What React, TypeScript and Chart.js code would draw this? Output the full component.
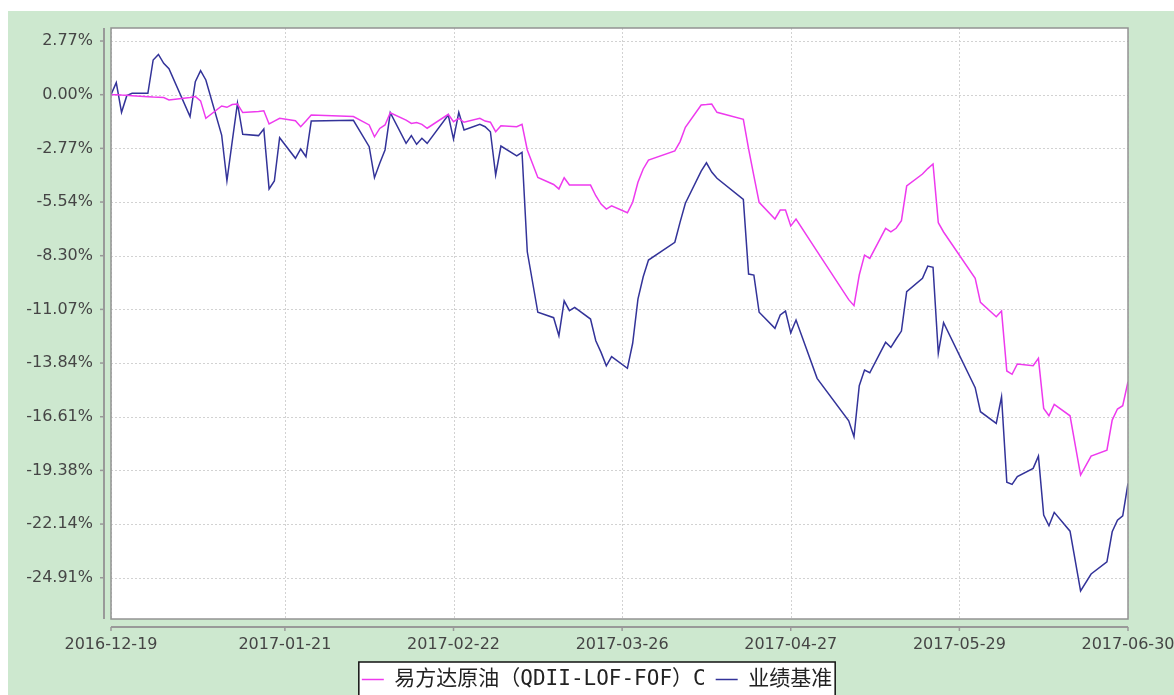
import React, { useEffect, useRef } from 'react';
import { Chart, registerables } from 'chart.js';

Chart.register(...registerables);

// ---------- data ----------
const startDate = '2016-12-19';
const endDate = '2017-06-30';

const dates = [
  '2016-12-19', '2016-12-20', '2016-12-21', '2016-12-22', '2016-12-23', '2016-12-26', '2016-12-27', '2016-12-28', '2016-12-29', '2016-12-30',
  '2017-01-03', '2017-01-04', '2017-01-05', '2017-01-06', '2017-01-09', '2017-01-10', '2017-01-11', '2017-01-12', '2017-01-13', '2017-01-16',
  '2017-01-17', '2017-01-18', '2017-01-19', '2017-01-20', '2017-01-23', '2017-01-24', '2017-01-25', '2017-01-26', '2017-02-03', '2017-02-06',
  '2017-02-07', '2017-02-08', '2017-02-09', '2017-02-10', '2017-02-13', '2017-02-14', '2017-02-15', '2017-02-16', '2017-02-17', '2017-02-21',
  '2017-02-22', '2017-02-23', '2017-02-24', '2017-02-27', '2017-02-28', '2017-03-01', '2017-03-02', '2017-03-03', '2017-03-06', '2017-03-07',
  '2017-03-08', '2017-03-10', '2017-03-13', '2017-03-14', '2017-03-15', '2017-03-16', '2017-03-17', '2017-03-20', '2017-03-21', '2017-03-22',
  '2017-03-23', '2017-03-24', '2017-03-27', '2017-03-28', '2017-03-29', '2017-03-30', '2017-03-31', '2017-04-05', '2017-04-06', '2017-04-07',
  '2017-04-10', '2017-04-11', '2017-04-12', '2017-04-13', '2017-04-18', '2017-04-19', '2017-04-20', '2017-04-21', '2017-04-24', '2017-04-25',
  '2017-04-26', '2017-04-27', '2017-04-28', '2017-05-02', '2017-05-08', '2017-05-09', '2017-05-10', '2017-05-11', '2017-05-12', '2017-05-15',
  '2017-05-16', '2017-05-17', '2017-05-18', '2017-05-19', '2017-05-22', '2017-05-23', '2017-05-24', '2017-05-25', '2017-05-26', '2017-06-01',
  '2017-06-02', '2017-06-05', '2017-06-06', '2017-06-07', '2017-06-08', '2017-06-09', '2017-06-12', '2017-06-13', '2017-06-14', '2017-06-15',
  '2017-06-16', '2017-06-19', '2017-06-21', '2017-06-23', '2017-06-26', '2017-06-27', '2017-06-28', '2017-06-29', '2017-06-30',
];

// 易方达原油（QDII-LOF-FOF）C, cumulative return %
const fundReturns = [
  0.0, 0.0, -0.02, -0.03, -0.05, -0.1, -0.12, -0.13, -0.15, -0.27,
  -0.14, -0.09, -0.32, -1.22, -0.58, -0.65, -0.51, -0.48, -0.92, -0.87,
  -0.83, -1.51, -1.36, -1.22, -1.34, -1.65, -1.36, -1.05, -1.13, -1.56,
  -2.17, -1.74, -1.56, -0.93, -1.31, -1.48, -1.43, -1.53, -1.73, -1.01,
  -1.39, -1.22, -1.42, -1.22, -1.36, -1.42, -1.91, -1.6, -1.65, -1.53,
  -2.85, -4.27, -4.63, -4.86, -4.28, -4.66, -4.66, -4.66, -5.21, -5.64,
  -5.9, -5.73, -6.09, -5.55, -4.52, -3.83, -3.37, -2.9, -2.42, -1.68,
  -0.53, -0.51, -0.48, -0.91, -1.27, -2.8, -4.19, -5.55, -6.41, -5.95,
  -5.95, -6.77, -6.41, -8.08, -10.57, -10.88, -9.3, -8.27, -8.44, -6.89,
  -7.07, -6.89, -6.5, -4.71, -4.09, -3.81, -3.57, -6.6, -7.08, -9.47,
  -10.71, -11.45, -11.16, -14.25, -14.42, -13.89, -13.98, -13.6, -16.18, -16.56,
  -15.97, -16.56, -19.62, -18.64, -18.33, -16.78, -16.21, -16.04, -14.8,
];

// 业绩基准, cumulative return %
const benchmarkReturns = [
  0.0, 0.62, -0.91, -0.05, 0.07, 0.07, 1.79, 2.08, 1.62, 1.34,
  -1.13, 0.67, 1.24, 0.76, -2.08, -4.44, -2.42, -0.44, -2.04, -2.11,
  -1.77, -4.86, -4.45, -2.22, -3.28, -2.8, -3.2, -1.36, -1.32, -2.68,
  -4.28, -3.54, -2.85, -0.93, -2.51, -2.11, -2.56, -2.25, -2.51, -1.05,
  -2.29, -0.91, -1.82, -1.53, -1.65, -1.91, -4.14, -2.65, -3.15, -2.97,
  -8.1, -11.22, -11.5, -12.43, -10.63, -11.14, -10.97, -11.57, -12.69, -13.29,
  -13.98, -13.51, -14.11, -12.82, -10.54, -9.39, -8.53, -7.61, -6.57, -5.6,
  -3.94, -3.51, -3.99, -4.31, -5.4, -9.25, -9.3, -11.22, -12.05, -11.36,
  -11.16, -12.28, -11.62, -14.63, -16.82, -17.64, -15.01, -14.2, -14.34, -12.77,
  -13.03, -12.6, -12.19, -10.16, -9.47, -8.84, -8.9, -13.34, -11.76, -15.11,
  -16.35, -16.95, -15.58, -19.99, -20.1, -19.7, -19.27, -18.64, -21.68, -22.23,
  -21.54, -22.51, -25.59, -24.72, -24.09, -22.54, -21.94, -21.72, -20.05,
];

const seriesNames = ['易方达原油（QDII-LOF-FOF）C', '业绩基准'];
const seriesColors = ['#ee3aee', '#333399'];

const xTickDates = ['2016-12-19', '2017-01-21', '2017-02-22', '2017-03-26', '2017-04-27', '2017-05-29', '2017-06-30'];
const yTickValues = [-24.912, -22.144, -19.376, -16.608, -13.84, -11.072, -8.304, -5.536, -2.768, 0, 2.768];
const yMin = -27.04;
const yMax = 3.44;

// ---------- helpers ----------
const DAY = 86400000;
const dayOf = (s: string) => Math.round((Date.parse(s) - Date.parse(startDate)) / DAY);

const BG = '#cde8cf';
const LEGEND_SHIFT = 29;

function legendRect(chart: any) {
  const lg = chart.legend;
  if (!lg || !lg.legendHitBoxes || !lg.legendHitBoxes.length) return null;
  const hb = lg.legendHitBoxes;
  const first = hb[0];
  const last = hb[hb.length - 1];
  const x = first.left - 3;
  const r = last.left + last.width + 3;
  const y = lg.top + 3;
  return { x, y, w: r - x, h: chart.height - y + 10 };
}

const framePlugin = {
  id: 'frame',
  afterLayout(chart: any) {
    const lg = chart.legend;
    if (lg) {
      lg.left += LEGEND_SHIFT;
      lg.right += LEGEND_SHIFT;
    }
  },
  beforeDraw(chart: any) {
    const { ctx, chartArea: a } = chart;
    ctx.save();
    ctx.fillStyle = '#ffffff';
    ctx.fillRect(a.left, a.top, a.right - a.left, a.bottom - a.top);
    const r = legendRect(chart);
    if (r) ctx.fillRect(r.x, r.y, r.w, r.h);
    ctx.restore();
  },
  beforeDatasetsDraw(chart: any) {
    const { ctx, chartArea: a, scales } = chart;
    ctx.save();
    ctx.strokeStyle = '#d2d2d2';
    ctx.lineWidth = 1;
    ctx.setLineDash([2, 2]);
    scales.y.ticks.forEach((t: any) => {
      const y = Math.round(scales.y.getPixelForValue(t.value)) + 0.5;
      ctx.beginPath();
      ctx.moveTo(a.left, y);
      ctx.lineTo(a.right, y);
      ctx.stroke();
    });
    scales.x.ticks.forEach((t: any) => {
      const x = Math.round(scales.x.getPixelForValue(t.value)) + 0.5;
      ctx.beginPath();
      ctx.moveTo(x, a.top);
      ctx.lineTo(x, a.bottom);
      ctx.stroke();
    });
    ctx.restore();
  },
  afterDraw(chart: any) {
    const { ctx, chartArea: a, scales } = chart;
    ctx.save();
    ctx.setLineDash([]);
    // plot frame
    ctx.strokeStyle = '#939393';
    ctx.lineWidth = 1.5;
    ctx.strokeRect(a.left, a.top, a.right - a.left, a.bottom - a.top);
    // y axis line + ticks
    const ax = a.left - 7;
    ctx.strokeStyle = '#999999';
    ctx.lineWidth = 2;
    ctx.beginPath();
    ctx.moveTo(ax, a.top);
    ctx.lineTo(ax, a.bottom);
    ctx.stroke();
    ctx.lineWidth = 1.5;
    scales.y.ticks.forEach((t: any) => {
      const y = scales.y.getPixelForValue(t.value);
      ctx.beginPath();
      ctx.moveTo(ax - 4, y);
      ctx.lineTo(ax, y);
      ctx.stroke();
    });
    // x axis line + ticks
    const ay = a.bottom + 8;
    ctx.lineWidth = 2;
    ctx.beginPath();
    ctx.moveTo(a.left, ay);
    ctx.lineTo(a.right, ay);
    ctx.stroke();
    ctx.lineWidth = 1.5;
    scales.x.ticks.forEach((t: any) => {
      const x = scales.x.getPixelForValue(t.value);
      ctx.beginPath();
      ctx.moveTo(x, ay);
      ctx.lineTo(x, ay + 4);
      ctx.stroke();
    });
    // legend border
    const r = legendRect(chart);
    if (r) {
      ctx.strokeStyle = '#111111';
      ctx.lineWidth = 1.5;
      ctx.strokeRect(r.x, r.y, r.w, r.h);
    }
    ctx.restore();
  },
};

export default function App() {
  const canvasRef = useRef<HTMLCanvasElement | null>(null);

  useEffect(() => {
    if (!canvasRef.current) return;
    const xs = dates.map(dayOf);
    const chart = new Chart(canvasRef.current, {
      type: 'line',
      data: {
        datasets: [
          {
            label: seriesNames[0],
            data: xs.map((x, i) => ({ x, y: fundReturns[i] })),
            borderColor: seriesColors[0],
            backgroundColor: seriesColors[0],
            borderWidth: 1.5,
            pointRadius: 0,
            tension: 0,
            fill: false,
          },
          {
            label: seriesNames[1],
            data: xs.map((x, i) => ({ x, y: benchmarkReturns[i] })),
            borderColor: seriesColors[1],
            backgroundColor: seriesColors[1],
            borderWidth: 1.5,
            pointRadius: 0,
            tension: 0,
            fill: false,
          },
        ],
      },
      options: {
        animation: false,
        responsive: false,
        maintainAspectRatio: false,
        layout: { padding: { top: 17, right: 46, left: 0, bottom: 0 } },
        scales: {
          x: {
            type: 'linear',
            min: 0,
            max: dayOf(endDate),
            afterBuildTicks: (s: any) => {
              s.ticks = xTickDates.map((d) => ({ value: dayOf(d) }));
            },
            afterFit: (s: any) => {
              s.height = 40;
              s.paddingLeft = 0;
              s.paddingRight = 0;
            },
            ticks: {
              autoSkip: false,
              maxRotation: 0,
              minRotation: 0,
              padding: 16,
              color: '#454545',
              font: { family: 'DejaVu Sans', size: 16 },
              callback: (v: any) => {
                const i = xTickDates.findIndex((d) => dayOf(d) === Number(v));
                return i >= 0 ? xTickDates[i] : '';
              },
            },
            grid: { display: false, drawTicks: false },
            border: { display: false },
          },
          y: {
            type: 'linear',
            min: yMin,
            max: yMax,
            afterBuildTicks: (s: any) => {
              s.ticks = yTickValues.map((v) => ({ value: v }));
            },
            afterFit: (s: any) => {
              s.width = 103;
              s.paddingTop = 0;
              s.paddingBottom = 0;
            },
            ticks: {
              padding: 18,
              color: '#454545',
              font: { family: 'DejaVu Sans', size: 16 },
              callback: (v: any) => Number(v).toFixed(2) + '%',
            },
            grid: { display: false, drawTicks: false },
            border: { display: false },
          },
        },
        plugins: {
          legend: {
            position: 'bottom',
            labels: {
              usePointStyle: true,
              pointStyle: 'line',
              pointStyleWidth: 22,
              padding: 10,
              color: '#222222',
              font: { family: '"DejaVu Sans Mono", "Noto Sans CJK SC"', size: 21 },
            },
          },
          tooltip: { enabled: false },
        },
      },
      plugins: [framePlugin],
    } as any);
    return () => chart.destroy();
  }, []);

  return (
    <div
      style={{
        position: 'fixed',
        left: 8,
        top: 11,
        width: 1166,
        height: 684,
        overflow: 'hidden',
        background: BG,
      }}
    >
      <canvas ref={canvasRef} width={1166} height={689} style={{ display: 'block' }} />
    </div>
  );
}
